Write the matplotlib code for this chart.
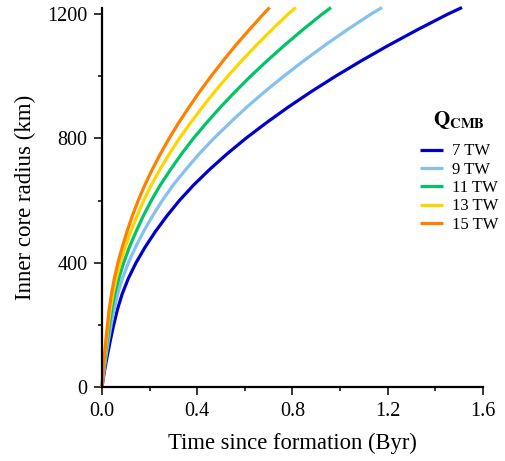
import numpy as np
import matplotlib
matplotlib.use('Agg')
import matplotlib.pyplot as plt
from matplotlib.ticker import MultipleLocator

plt.rcParams['font.family'] = ['Liberation Serif', 'DejaVu Serif']
plt.rcParams['mathtext.fontset'] = 'stix'

# Inner core radius (km) and the time (Byr) each run needs to reach it
radius_km = [0, 50, 100, 150, 200, 250, 300, 350, 400, 450, 500, 550, 600,
             650, 700, 750, 800, 850, 900, 950, 1000, 1050, 1100, 1150, 1200, 1221]

t_7tw = [0, 0.010, 0.022, 0.035, 0.049, 0.065, 0.085, 0.111, 0.143, 0.181, 0.224,
         0.272, 0.325, 0.385, 0.452, 0.525, 0.604, 0.690, 0.781, 0.878, 0.981,
         1.090, 1.205, 1.326, 1.453, 1.512]
t_9tw = [0, 0.008, 0.017, 0.027, 0.038, 0.051, 0.066, 0.086, 0.111, 0.141, 0.174,
         0.212, 0.253, 0.299, 0.352, 0.408, 0.470, 0.537, 0.607, 0.683, 0.763,
         0.848, 0.937, 1.031, 1.130, 1.176]
t_11tw = [0, 0.006, 0.014, 0.022, 0.031, 0.041, 0.054, 0.071, 0.091, 0.115, 0.143,
          0.173, 0.207, 0.245, 0.288, 0.334, 0.384, 0.439, 0.497, 0.559, 0.624,
          0.694, 0.767, 0.844, 0.925, 0.962]
t_13tw = [0, 0.005, 0.012, 0.019, 0.026, 0.035, 0.046, 0.060, 0.077, 0.098, 0.121,
          0.147, 0.175, 0.207, 0.243, 0.283, 0.325, 0.372, 0.421, 0.473, 0.528,
          0.587, 0.649, 0.714, 0.782, 0.814]
t_15tw = [0, 0.005, 0.010, 0.016, 0.023, 0.030, 0.040, 0.052, 0.067, 0.085, 0.105,
          0.127, 0.152, 0.180, 0.211, 0.245, 0.282, 0.322, 0.365, 0.410, 0.458,
          0.509, 0.562, 0.619, 0.678, 0.704]

labels = ['7 TW', '9 TW', '11 TW', '13 TW', '15 TW']
times = [t_7tw, t_9tw, t_11tw, t_13tw, t_15tw]
colors = ['#0000CD', '#85C1EE', '#00C466', '#FFD500', '#FF8000']

fig = plt.figure(figsize=(5.06, 4.61), dpi=100)
ax = fig.add_axes([0.2016, 0.1605, 0.7529, 0.8232])

for t, lab, c in zip(times, labels, colors):
    ax.plot(t, radius_km, color=c, lw=2.3, label=lab, clip_on=False,
            solid_capstyle='butt', solid_joinstyle='round')

ax.set_xlim(0, 1.6)
ax.set_ylim(0, 1221)
ax.xaxis.set_major_locator(MultipleLocator(0.4))
ax.xaxis.set_minor_locator(MultipleLocator(0.2))
ax.yaxis.set_major_locator(MultipleLocator(400))
ax.yaxis.set_minor_locator(MultipleLocator(200))
ax.set_xticks(ax.get_xticks())
ax.set_xticklabels([f'{v:.1f}' for v in ax.get_xticks()])
ax.set_xlim(0, 1.6)

for s in ['top', 'right']:
    ax.spines[s].set_visible(False)
for s in ['left', 'bottom']:
    ax.spines[s].set_linewidth(1.6)

ax.tick_params(which='major', direction='out', length=6, width=1.1,
               labelsize=14.5, pad=4.5)
ax.tick_params(which='minor', direction='out', length=3, width=1.1)

ax.set_xlabel('Time since formation (Byr)', fontsize=16.3, labelpad=9)
ax.set_ylabel('Inner core radius (km)', fontsize=16.5, labelpad=8)

leg = ax.legend(title=r'$\mathbf{Q_{CMB}}$', frameon=False, fontsize=12,
                title_fontsize=15, loc='upper left',
                bbox_to_anchor=(0.799, 0.768), handlelength=1.38,
                handletextpad=0.54, labelspacing=0.14, borderpad=0.3)
leg._legend_box.sep = 9

fig.savefig('out.png', dpi=100)
